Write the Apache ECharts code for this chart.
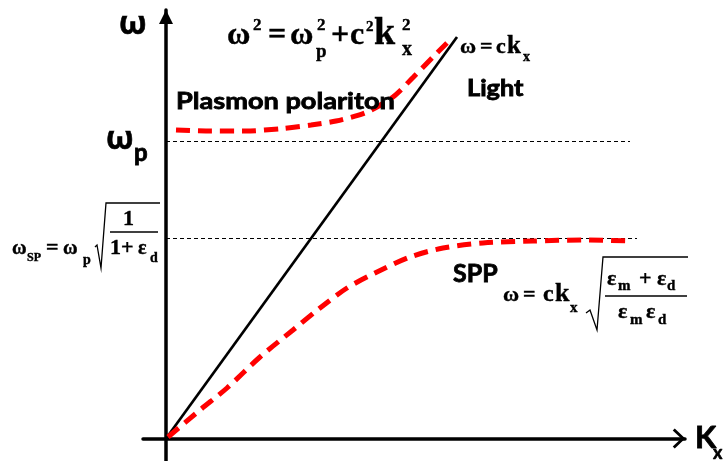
<!DOCTYPE html>
<html>
<head>
<meta charset="utf-8">
<script src="https://cdn.jsdelivr.net/npm/echarts@6/dist/echarts.min.js"></script>
<style>html,body{margin:0;padding:0;background:#fff}#c{width:726px;height:461px}</style>
</head>
<body>
<div id="c"></div>
<script>
// ---- data (units: wavevector k_x on x, frequency on y) ----
const xRange = [-23, 519];
const yRange = [-22.5, 428.5];
const lightLine = [[0, 0], [291, 401.5]];
const plasmonCurve = [[10, 308.5], [40, 307.5], [80, 307.5], [117, 310], [145, 313.5], [170, 317.5], [200, 326], [227, 341.5], [247, 361], [267, 381.5], [281, 395.5]];
const sppCurve = [[2, 1.5], [34, 28.5], [61, 50.5], [94, 81.5], [127, 108.5], [154, 130.5], [181, 150.5], [211, 166.5], [244, 181.5], [277, 190.5], [317, 195.5], [367, 197.5], [417, 198.5], [464, 197.5]];
const omegaP = 297, omegaPEnd = 464;
const omegaSP = 200, omegaSPEnd = 471;

const SERIF = '"Liberation Serif", "Times New Roman", serif';
const SANS = 'Lato, "Open Sans", sans-serif';
const GSANS = '"Open Sans", "DejaVu Sans", sans-serif';

function tx(text, x, base, size, fam, k, sx, sw) {
  k = (k == null) ? 0.35 : k;
  return {type: 'text', x: x, y: base - k * size, z: 100, scaleX: sx || 1,
    style: {text: text, font: 'bold ' + size + 'px ' + fam, fill: '#000',
      stroke: '#000', lineWidth: sw == null ? 0.4 : sw,
      align: 'left', verticalAlign: 'middle'}};
}
function pl(points, w) {
  return {type: 'polyline', z: 100, shape: {points: points}, style: {stroke: '#000', lineWidth: w || 1.3, fill: null}};
}

const graphics = [
  // axis labels
  tx('ω', 119, 37, 32, GSANS, 0.38, 1, 0.6),
  tx('ω', 106, 152, 32, GSANS, 0.38, 1, 0.6),
  tx('p', 134, 162, 24, SANS, 0.38, 1, 0.8),
  tx('K', 695, 450, 31, SANS, 0.38, 1, 0.8),
  tx('x', 713, 460, 18, SANS, 0.38, 1, 0.6),
  // curve labels
  tx('Plasmon polariton', 176, 110, 23, SANS, 0.38, 1.18, 0.8),
  tx('Light', 467, 97, 22, SANS, 0.38, 1.15, 0.8),
  tx('SPP', 453, 283, 25, SANS, 0.38, 1, 0.8),
  // equation 1
  tx('ω', 227, 47, 32, SERIF), tx('2', 253, 32, 17, SERIF),
  tx('=', 268, 47, 32, SERIF),
  tx('ω', 290, 47, 32, SERIF), tx('2', 317, 32, 17, SERIF), tx('p', 316, 59, 19, SERIF),
  tx('+', 331, 47, 32, SERIF),
  tx('c', 350, 47, 32, SERIF), tx('2', 366, 32, 15, SERIF),
  tx('k', 374, 47, 38, SERIF), tx('2', 402, 32, 17, SERIF), tx('x', 402, 57, 20, SERIF),
  // light equation
  tx('ω', 460, 55, 22, SERIF), tx('=', 480, 55, 22, SERIF), tx('c', 496, 55, 22, SERIF),
  tx('k', 507, 55, 25, SERIF), tx('x', 523, 62, 14, SERIF),
  // SPP equation
  tx('ω', 503, 303, 22, SERIF), tx('=', 523, 303, 22, SERIF), tx('c', 543, 303, 24, SERIF),
  tx('k', 555, 303, 26, SERIF), tx('x', 570, 313, 15, SERIF),
  pl([[586, 313], [590, 310], [597, 330], [603, 257], [688, 257]], 1.3),
  tx('ε', 607, 287, 22, SERIF), tx('m', 618, 291, 15, SERIF), tx('+', 639, 287, 22, SERIF),
  tx('ε', 657, 287, 22, SERIF), tx('d', 667, 291, 15, SERIF),
  pl([[605, 296], [687, 296]], 1.5),
  tx('ε', 618, 320, 22, SERIF), tx('m', 630, 325, 15, SERIF),
  tx('ε', 646, 320, 22, SERIF), tx('d', 658, 325, 15, SERIF),
  // omega_SP equation
  tx('ω', 12, 256, 20, SERIF), tx('SP', 27, 262, 12, SERIF),
  tx('=', 46, 256, 22, SERIF), tx('ω', 63, 256, 20, SERIF), tx('p', 83, 265, 14, SERIF),
  pl([[95, 247], [97, 245], [101, 268], [106, 203], [160, 203]], 1.3),
  tx('1', 123, 227, 22, SERIF),
  pl([[110, 232], [158, 232]], 1.5),
  tx('1', 110, 256, 22, SERIF), tx('+', 121, 256, 22, SERIF), tx('ε', 138, 256, 20, SERIF),
  tx('d', 150, 263, 14, SERIF)
];

const chart = echarts.init(document.getElementById('c'), null, {renderer: 'canvas'});
chart.setOption({
  animation: false,
  backgroundColor: '#fff',
  grid: {left: 143, right: 41, top: 10, bottom: 0},
  xAxis: {type: 'value', min: xRange[0], max: xRange[1],
    axisLine: {onZero: true, lineStyle: {color: '#000', width: 3.5},
      symbol: ['none', 'path://M10,0 L20,10.5 L18,12.5 L10,4 L2,12.5 L0,10.5 Z'],
      symbolSize: [20, 12.5], symbolOffset: [0, -6]},
    axisTick: {show: false}, axisLabel: {show: false}, splitLine: {show: false}},
  yAxis: {type: 'value', min: yRange[0], max: yRange[1],
    axisLine: {onZero: true, lineStyle: {color: '#000', width: 3.5},
      symbol: ['none', 'triangle'], symbolSize: [14, 14], symbolOffset: [0, -7]},
    axisTick: {show: false}, axisLabel: {show: false}, splitLine: {show: false}},
  series: [
    {type: 'line', data: lightLine, symbol: 'none', lineStyle: {color: '#000', width: 2.7}, z: 3},
    {type: 'line', data: [[0, omegaP], [omegaPEnd, omegaP]], symbol: 'none', lineStyle: {color: '#000', width: 1, type: [4, 3]}, z: 2},
    {type: 'line', data: [[0, omegaSP], [omegaSPEnd, omegaSP]], symbol: 'none', lineStyle: {color: '#000', width: 1, type: [4, 3]}, z: 2},
    {type: 'line', data: plasmonCurve, smooth: 0.25, symbol: 'none', lineStyle: {color: '#ff0000', width: 5, type: [14, 8], cap: 'butt'}, z: 4},
    {type: 'line', data: sppCurve, smooth: 0.3, symbol: 'none', lineStyle: {color: '#ff0000', width: 5, type: [14, 8], cap: 'butt'}, z: 4}
  ],
  graphic: graphics
});
</script>
</body>
</html>
